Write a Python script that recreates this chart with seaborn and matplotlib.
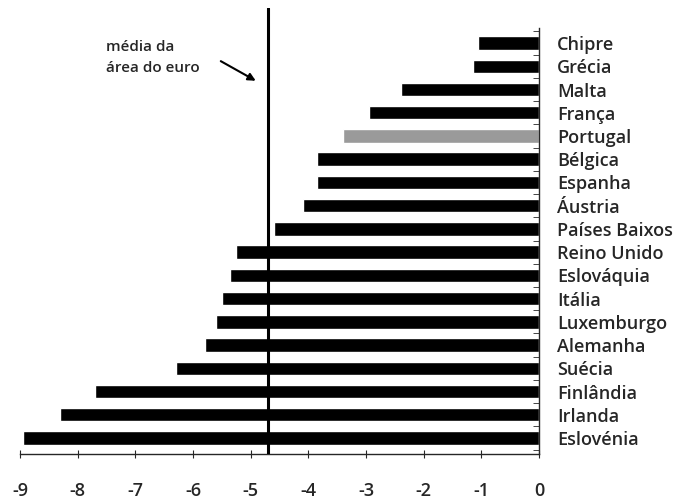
import matplotlib
matplotlib.use("Agg")
import matplotlib.pyplot as plt
import seaborn as sns
import pandas as pd

countries = ["Chipre", "Grécia", "Malta", "França", "Portugal", "Bélgica", "Espanha",
             "Áustria", "Países Baixos", "Reino Unido", "Eslováquia", "Itália",
             "Luxemburgo", "Alemanha", "Suécia", "Finlândia", "Irlanda", "Eslovénia"]
values = [-1.05, -1.15, -2.4, -2.95, -3.4, -3.85, -3.85, -4.1, -4.6, -5.25, -5.35, -5.5,
          -5.6, -5.8, -6.3, -7.7, -8.3, -8.95]
euro_mean = -4.7
x_ticks = [-9, -8, -7, -6, -5, -4, -3, -2, -1, 0]

sns.set_style("white")
plt.rcParams['font.family'] = ['Open Sans', 'DejaVu Sans']

df = pd.DataFrame({"pais": countries, "valor": values})
palette = {c: ("#9a9a9a" if c == "Portugal" else "#000000") for c in countries}

fig = plt.figure(figsize=(6.76, 4.99), dpi=100)
ax = fig.add_axes([20/676, 45/499, (539-20)/676, (454-8)/499])

sns.barplot(data=df, x="valor", y="pais", hue="pais", palette=palette, legend=False,
            orient="h", width=0.58, ax=ax, saturation=1)

ax.set_xlim(-9, 0)
ax.set_ylim(17.69, -1.51)
ax.set_xlabel("")
ax.set_ylabel("")

ax.axvline(euro_mean, color="black", lw=2.2, zorder=5)

for s in ["left", "top"]:
    ax.spines[s].set_visible(False)
ax.spines["right"].set_bounds(-0.65, 17.69)
ax.spines["right"].set_linewidth(1.0)
ax.spines["bottom"].set_linewidth(1.0)

ax.yaxis.tick_right()
ax.tick_params(axis="y", which="major", length=0, pad=13, labelsize=13)
ax.set_yticks(range(len(countries)))
ax.set_yticklabels(countries, fontweight="semibold")
for lbl in ax.get_yticklabels():
    lbl.set_horizontalalignment("left")
ax.set_yticks([i + 0.5 for i in range(-1, len(countries))], minor=True)
ax.tick_params(axis="y", which="minor", direction="in", length=4, right=True, left=False)

ax.set_xticks(x_ticks)
ax.set_xticklabels([str(t) for t in x_ticks], fontweight="semibold")
ax.tick_params(axis="x", direction="inout", length=6, pad=17, labelsize=13, bottom=True)

ax.annotate("", xy=(-4.87, 1.68), xytext=(-5.56, 0.72),
            arrowprops=dict(arrowstyle="-|>", color="black", lw=1.5, mutation_scale=11))
ax.text(-7.5, 0.62, "média da\nárea do euro", fontsize=11, ha="left", va="center",
        linespacing=1.55, fontweight="semibold")

fig.savefig("out.png", dpi=100)
